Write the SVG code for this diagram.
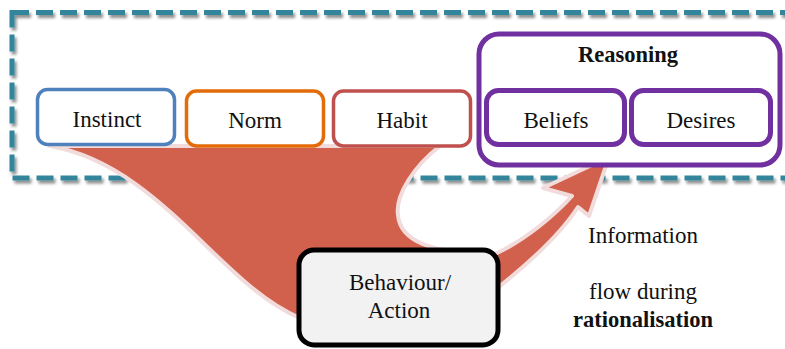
<svg xmlns="http://www.w3.org/2000/svg" width="785" height="349" viewBox="0 0 785 349">
<defs>
<filter id="sh" x="-5%" y="-10%" width="110%" height="130%">
<feDropShadow dx="2" dy="3" stdDeviation="1.6" flood-color="#000" flood-opacity="0.45"/>
</filter>
<style>
text{font-family:"Liberation Serif","Times New Roman",serif;font-size:23px;fill:#111;text-anchor:middle}
.b{font-weight:bold;font-size:22.5px}
.box{fill:#fff;stroke-width:3.5}
.pur{fill:#fff;stroke:#7030a0;stroke-width:5}
</style>
</defs>
<rect width="785" height="349" fill="#fff"/>
<g id="frame">
<rect x="12" y="12.5" width="790" height="165.5" fill="none" stroke="#31859b" stroke-width="5" stroke-dasharray="17 7" filter="url(#sh)"/>
</g>
<g id="connectors">
<path d="M50,146 L440,146 C415,165 395,195 398,215 C400,240 430,255 497,253 C525,240 555,215 572,196 L543,188 L609,157 L589,216 L578,207 C560,235 530,262 500,286 L480,330 L320,330 L300,318 C220,285 160,165 50,146 Z" fill="#d1604c" stroke="#f2dcdb" stroke-width="4" stroke-linejoin="round"/>
</g>
<g id="instinct">
<rect class="box" x="37.5" y="89.5" width="137" height="55" rx="10" stroke="#4f81bd"/>
<text x="107" y="127">Instinct</text>
</g>
<g id="norm">
<rect class="box" x="186.5" y="91" width="137" height="55" rx="10" stroke="#e36c09"/>
<text x="255" y="128">Norm</text>
</g>
<g id="habit">
<rect class="box" x="333.5" y="91" width="137" height="55" rx="10" stroke="#c0504d"/>
<text x="402" y="128">Habit</text>
</g>
<g id="reasoning">
<rect class="pur" x="479" y="34" width="301" height="131" rx="20"/>
<text class="b" x="628" y="62">Reasoning</text>
</g>
<g id="beliefs">
<rect class="pur" x="486.5" y="90.5" width="138" height="54" rx="12"/>
<text x="556" y="128">Beliefs</text>
</g>
<g id="desires">
<rect class="pur" x="631.5" y="90.5" width="139" height="54" rx="12"/>
<text x="701" y="128">Desires</text>
</g>
<g id="behaviour">
<rect x="299" y="250" width="199" height="95" rx="15" fill="#f2f2f2" stroke="#000" stroke-width="5"/>
<text x="400" y="290">Behaviour/</text>
<text x="399" y="318">Action</text>
</g>
<g id="label">
<text x="643" y="243">Information</text>
<text x="643" y="299">flow during</text>
<text class="b" x="643" y="327">rationalisation</text>
</g>
</svg>
